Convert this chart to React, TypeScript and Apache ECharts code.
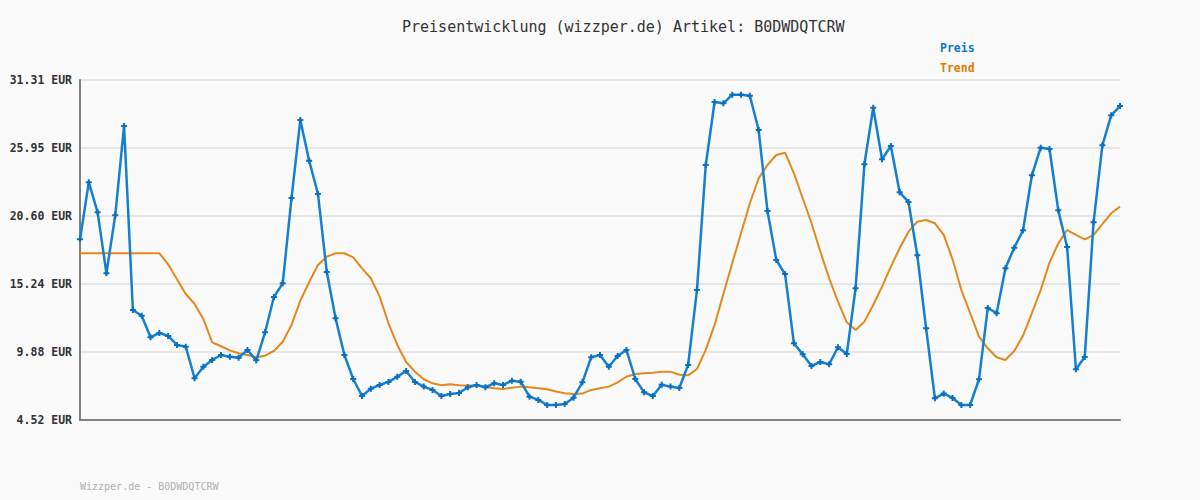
import React, { useEffect, useRef } from "react";
import * as echarts from "echarts";

const titleText = "Preisentwicklung (wizzper.de) Artikel: B0DWDQTCRW";
const footerText = "Wizzper.de - B0DWDQTCRW";
const seriesNames = ["Preis", "Trend"];

const price = [
  18.76, 23.25, 20.88, 16.08, 20.65, 27.69, 13.19, 12.74, 11.04, 11.38,
  11.14, 10.43, 10.30, 7.81, 8.72, 9.25, 9.64, 9.51, 9.43, 10.04,
  9.22, 11.43, 14.21, 15.29, 22.01, 28.16, 24.95, 22.33, 16.18, 12.53,
  9.64, 7.75, 6.41, 6.99, 7.28, 7.52, 7.93, 8.38, 7.52, 7.15,
  6.89, 6.41, 6.57, 6.65, 7.10, 7.28, 7.10, 7.41, 7.28, 7.62,
  7.54, 6.36, 6.10, 5.70, 5.70, 5.78, 6.28, 7.49, 9.46, 9.64,
  8.72, 9.56, 10.04, 7.75, 6.70, 6.41, 7.30, 7.15, 7.04, 8.86,
  14.76, 24.61, 29.58, 29.47, 30.15, 30.15, 30.07, 27.37, 20.99, 17.13,
  16.02, 10.56, 9.70, 8.78, 9.09, 8.91, 10.25, 9.72, 14.90, 24.67,
  29.13, 25.06, 26.11, 22.46, 21.70, 17.50, 11.75, 6.23, 6.60, 6.26,
  5.70, 5.70, 7.73, 13.35, 12.93, 16.47, 18.10, 19.47, 23.80, 25.98,
  25.87, 21.04, 18.15, 8.52, 9.49, 20.10, 26.16, 28.53, 29.26,
];

const trend = [
  17.66, 17.66, 17.66, 17.66, 17.66, 17.66, 17.66, 17.66, 17.66, 17.66,
  16.79, 15.61, 14.45, 13.66, 12.46, 10.64, 10.33, 10.01, 9.78, 9.64,
  9.46, 9.59, 9.96, 10.69, 12.01, 13.92, 15.39, 16.73, 17.39, 17.66,
  17.66, 17.34, 16.47, 15.69, 14.24, 12.14, 10.43, 9.09, 8.33, 7.73,
  7.41, 7.26, 7.33, 7.26, 7.23, 7.23, 7.12, 7.02, 6.97, 7.07,
  7.15, 7.10, 7.02, 6.94, 6.76, 6.63, 6.57, 6.60, 6.89, 7.02,
  7.15, 7.49, 7.93, 8.15, 8.20, 8.25, 8.33, 8.33, 8.09, 8.04,
  8.54, 10.04, 12.01, 14.45, 16.87, 19.23, 21.60, 23.57, 24.61, 25.40,
  25.58, 23.96, 21.99, 20.02, 17.79, 15.69, 13.84, 12.22, 11.61, 12.27,
  13.58, 15.03, 16.60, 18.05, 19.36, 20.15, 20.28, 20.02, 19.10, 17.18,
  14.76, 12.93, 11.09, 10.17, 9.46, 9.25, 9.96, 11.17, 12.93, 14.76,
  16.92, 18.44, 19.49, 19.10, 18.76, 19.10, 19.96, 20.81, 21.33,
];

const yTickLabels = ["4.52 EUR", "9.88 EUR", "15.24 EUR", "20.60 EUR", "25.95 EUR", "31.31 EUR"];
const yMin = 4.52;
const yMax = 31.31;

const categories = price.map((_, i) => String(i + 1));

const FONT = "'DejaVu Sans Mono', monospace";
const BLUE = "#1580cf";
const ORANGE = "#e3891c";

export default function App() {
  const ref = useRef<HTMLDivElement>(null);

  useEffect(() => {
    if (!ref.current) return;
    const chart = echarts.init(ref.current, null, { renderer: "svg" });
    const span = yMax - yMin;
    const step = span / (yTickLabels.length - 1);
    const shift = (v: number) => v - yMin;
    chart.setOption({
      animation: false,
      backgroundColor: "#fafafa",
      textStyle: { fontFamily: FONT },
      title: {
        text: titleText,
        left: 402,
        top: 19,
        padding: 0,
        textStyle: { fontFamily: FONT, fontSize: 15, fontWeight: "normal", color: "#333" },
      },
      legend: {
        orient: "vertical",
        left: 935,
        top: 41,
        icon: "none",
        itemWidth: 0,
        itemHeight: 14,
        itemGap: 7,
        padding: 0,
        selectedMode: false,
        data: [
          { name: seriesNames[0], textStyle: { color: "#0a78c8" } },
          { name: seriesNames[1], textStyle: { color: "#e07b00" } },
        ],
        textStyle: { fontFamily: FONT, fontSize: 11.5, fontWeight: "bold", padding: 0 },
      },
      graphic: [
        {
          type: "text",
          left: 80,
          top: 481,
          style: { text: footerText, fill: "#b0b0b0", font: `10px ${FONT}` },
        },
      ],
      grid: { left: 80, right: 80, top: 80, bottom: 80, containLabel: false },
      xAxis: {
        type: "category",
        data: categories,
        boundaryGap: false,
        axisLine: { show: true, lineStyle: { color: "#808080", width: 2 } },
        axisTick: { show: false },
        axisLabel: { show: false },
        splitLine: { show: false },
      },
      yAxis: {
        type: "value",
        min: 0,
        max: span,
        interval: step,
        axisLine: { show: true, lineStyle: { color: "#808080", width: 2 } },
        axisTick: { show: false },
        axisLabel: {
          margin: 8,
          color: "#333",
          fontFamily: FONT,
          fontSize: 11.5,
          fontWeight: "bold",
          formatter: (_v: number, i: number) => yTickLabels[i] ?? "",
        },
        splitLine: { show: true, lineStyle: { color: "#e6e6e6", width: 2 } },
      },
      series: [
        {
          name: seriesNames[1],
          type: "line",
          data: trend.map(shift),
          symbol: "none",
          lineStyle: { color: ORANGE, width: 2 },
          itemStyle: { color: ORANGE },
          z: 3,
        },
        {
          name: seriesNames[0],
          type: "line",
          data: price.map(shift),
          symbol: "path://M2,0H4V2H6V4H4V6H2V4H0V2H2Z",
          symbolSize: 6,
          showSymbol: true,
          showAllSymbol: true,
          lineStyle: { color: BLUE, width: 2.5 },
          itemStyle: { color: "#0a6fc0" },
          z: 4,
        },
      ],
    });
    return () => chart.dispose();
  }, []);

  return (
    <div
      ref={ref}
      style={{ position: "fixed", left: 0, top: 0, width: 1200, height: 500, background: "#fafafa" }}
    />
  );
}
